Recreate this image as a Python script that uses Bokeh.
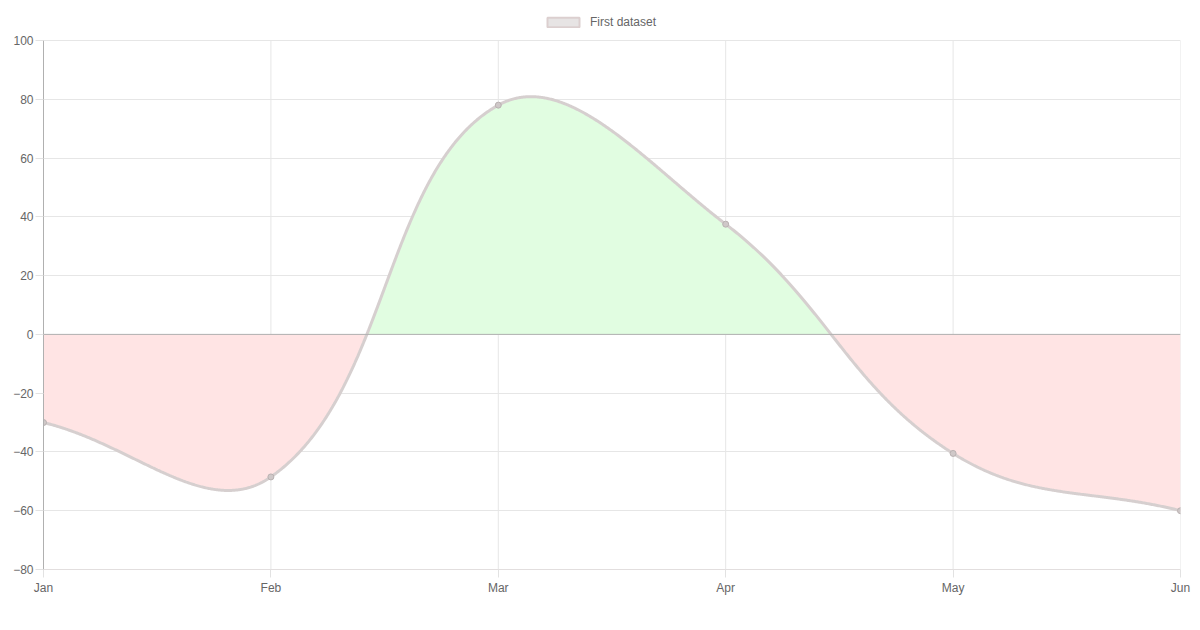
import math
import numpy as np
from bokeh.plotting import figure
from bokeh.models import (Range1d, FixedTicker, Legend, LegendItem, Span)
from bokeh.embed import file_html
from bokeh.resources import INLINE

# ---- data ----
months = ["Jan", "Feb", "Mar", "Apr", "May", "Jun"]
values = [-30, -48.5, 78, 37.5, -40.5, -60]
y_ticks = [-80, -60, -40, -20, 0, 20, 40, 60, 80, 100]
series_name = "First dataset"

# ---- geometry ----
FW, FH = 1137, 529          # pixel size of the data area
XMIN, XMAX = 0, len(months) - 1
YMIN, YMAX = -80, 100
TOP_PAD = 30                # blank frame space above the data area (for legend)
Y_TOP = YMAX + TOP_PAD * (YMAX - YMIN) / FH


def to_px(x, y):
    return x * FW / (XMAX - XMIN), (y - YMIN) * FH / (YMAX - YMIN)


def to_data(px, py):
    return px * (XMAX - XMIN) / FW, py * (YMAX - YMIN) / FH + YMIN


# Chart.js-style bezier smoothing (tension 0.4), computed in pixel space
pts = [to_px(i, v) for i, v in enumerate(values)]
n = len(pts)
tension = 0.4
cp_prev, cp_next = [], []
for i in range(n):
    pv = pts[max(i - 1, 0)]
    cu = pts[i]
    nx = pts[min(i + 1, n - 1)]
    d01 = math.hypot(cu[0] - pv[0], cu[1] - pv[1])
    d12 = math.hypot(nx[0] - cu[0], nx[1] - cu[1])
    tot = d01 + d12
    s01 = d01 / tot if tot else 0
    s12 = d12 / tot if tot else 0
    fa, fb = tension * s01, tension * s12
    a = (cu[0] - fa * (nx[0] - pv[0]), cu[1] - fa * (nx[1] - pv[1]))
    b = (cu[0] + fb * (nx[0] - pv[0]), cu[1] + fb * (nx[1] - pv[1]))
    clamp = lambda p: (min(max(p[0], 0), FW), min(max(p[1], 0), FH))
    cp_prev.append(clamp(a))
    cp_next.append(clamp(b))

cx, cy = [], []
ts = np.linspace(0, 1, 240)
for i in range(n - 1):
    P0, P1, P2, P3 = pts[i], cp_next[i], cp_prev[i + 1], pts[i + 1]
    tt = ts if i == 0 else ts[1:]
    for t in tt:
        u = 1 - t
        bx = u**3 * P0[0] + 3 * u * u * t * P1[0] + 3 * u * t * t * P2[0] + t**3 * P3[0]
        by = u**3 * P0[1] + 3 * u * u * t * P1[1] + 3 * u * t * t * P2[1] + t**3 * P3[1]
        dx, dy = to_data(bx, by)
        cx.append(dx)
        cy.append(dy)
cx = np.array(cx)
cy = np.array(cy)

FONT = "Liberation Sans"

p = figure(width=1200, height=630, x_range=Range1d(XMIN, XMAX),
           y_range=Range1d(YMIN, Y_TOP), output_backend="svg",
           toolbar_location=None, min_border_left=43, min_border_right=20,
           min_border_top=40 - TOP_PAD, min_border_bottom=61)
p.outline_line_color = None
p.background_fill_color = "white"

# legend swatch renderer: a zero-size quad at the axis origin (draws nothing)
swatch = p.quad(left=[XMIN], right=[XMIN], top=[YMIN], bottom=[YMIN],
                fill_color="#e7e4e4", line_color="#dccfcf", line_width=2)

# vertical grid lines limited to the data area
p.xgrid.visible = False
xs = list(range(n))
p.segment(x0=xs, y0=[YMIN] * n, x1=xs, y1=[YMAX] * n,
          line_color="#e6e6e6", line_width=1)

# fills
p.varea(x=cx, y1=np.zeros_like(cy), y2=np.maximum(cy, 0), fill_color="#e1fde1")
p.varea(x=cx, y1=np.zeros_like(cy), y2=np.minimum(cy, 0), fill_color="#ffe4e4")

p.add_layout(Span(location=0, dimension="width", line_color="#b0b0b0", line_width=1))

p.line(cx, cy, line_color="#d6cfcf", line_width=3)
p.scatter(xs, values, size=6, fill_color="#cfc8c8",
          line_color="#b9b1b1", line_width=1)

# axes
for ax in (p.xaxis[0], p.yaxis[0]):
    ax.major_label_text_font = FONT
    ax.major_label_text_font_size = "12px"
    ax.major_label_text_color = "#666666"
    ax.major_tick_out = 8
    ax.major_tick_in = 0
    ax.minor_tick_out = 0
    ax.minor_tick_in = 0
    ax.major_tick_line_color = "#e2e2e2"

p.xaxis.ticker = FixedTicker(ticks=xs)
p.xaxis.major_label_overrides = {i: m for i, m in enumerate(months)}
p.xaxis.axis_line_color = "#e2dede"
p.xaxis.major_label_standoff = 3

p.yaxis.ticker = FixedTicker(ticks=y_ticks)
p.yaxis.bounds = (YMIN, YMAX)
p.yaxis.axis_line_color = "#b0b0b0"
p.yaxis.major_label_standoff = 2

p.ygrid.ticker = FixedTicker(ticks=y_ticks)
p.ygrid.grid_line_color = "#e6e6e6"

legend = Legend(items=[LegendItem(label=series_name, renderers=[swatch])],
                location=(500, FH + 11), orientation="horizontal",
                glyph_width=40, glyph_height=12, label_height=12,
                padding=0, margin=0, spacing=0,
                border_line_color=None, background_fill_alpha=0,
                label_text_font=FONT, label_text_font_size="12px",
                label_text_color="#666666", label_standoff=7)
p.add_layout(legend)

open("out.html", "w").write(file_html(p, INLINE))
